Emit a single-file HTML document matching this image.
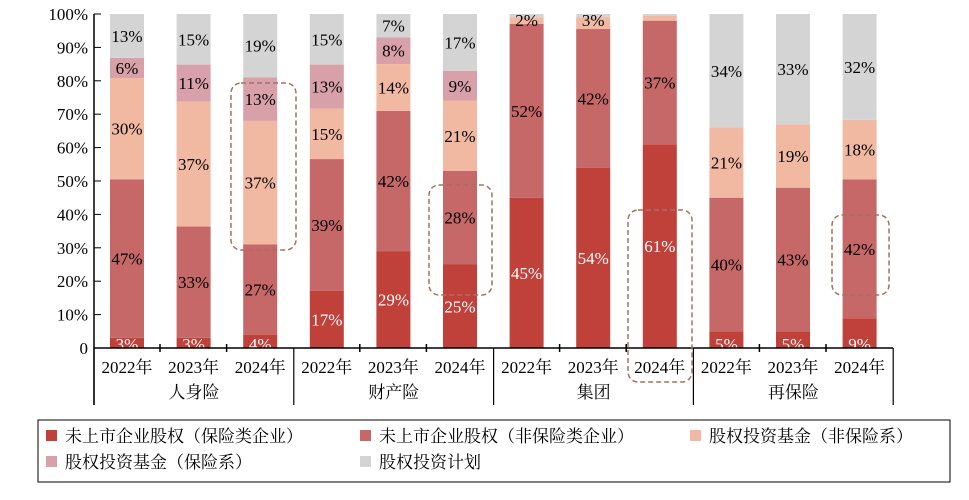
<!DOCTYPE html>
<html><head><meta charset="utf-8"><style>
body{margin:0;background:#fff;}
svg text{font-family:"Liberation Serif","Noto Serif CJK SC",serif;font-size:17px;}
</style></head><body>
<svg id="c" width="969" height="495" xmlns="http://www.w3.org/2000/svg"></svg>
<script>
const s=document.getElementById('c');let h='',t='';
const y0=348,k=3.34;
const col=['#c0403a','#c66868','#f1b9a2','#d8a0a8','#d4d4d4'];
const data=[[3,47,30,6,13],[3,33,37,11,15],[4,27,37,13,19],[17,39,15,13,15],[29,42,14,8,7],[25,28,21,9,17],
[45,52,2,0,1],[54,41.5,3.5,0,1],[61,37,1.5,0,0.5],[5,40,21,0,34],[5,43,19,0,33],[9,42,18,0,32]];
const lab=[[3,47,30,6,13],[3,33,37,11,15],[4,27,37,13,19],[17,39,15,13,15],[29,42,14,8,7],[25,28,21,9,17],
[45,52,2,null,null],[54,42,3,null,null],[61,37,null,null,null],[5,40,21,null,34],[5,43,19,null,33],[9,42,18,null,32]];
for(let i=0;i<12;i++){
 const cx=127+i*66.6;let acc=0;let tot=data[i].reduce((a,b)=>a+b,0);
 for(let j=0;j<5;j++){const v=data[i][j]*100/tot;if(v<=0)continue;
  const yt=y0-(acc+v)*k;h+=`<rect x="${cx-17}" y="${yt}" width="34" height="${v*k}" fill="${col[j]}"/>`;
  const L=lab[i][j];
  if(L!=null){let ty=y0-(acc+v/2)*k+6;if(i>=6&&i<=7&&j==2)ty=26;if(j==0&&L<10)ty=y0+2;
   t+=`<text x="${cx}" y="${ty}" text-anchor="middle" fill="${j==0?'#fff':'#000'}">${L}%</text>`;}
  acc+=v;}
 t+=`<text x="${cx}" y="373" text-anchor="middle">${2022+i%3}年</text>`;
}
h+=t;
h+=`<line x1="94" y1="14" x2="94" y2="405" stroke="#000" stroke-width="1.5"/>`;
h+=`<line x1="94" y1="348" x2="893" y2="348" stroke="#000" stroke-width="1.5"/>`;
for(let p=0;p<=10;p++){const y=y0-p*33.4;h+=`<line x1="94" y1="${y}" x2="101" y2="${y}" stroke="#000"/><text x="88" y="${y+6}" text-anchor="end">${p==0?'0':p*10+'%'}</text>`;}
for(let g=0;g<=4;g++){const x=94+g*199.8;h+=`<line x1="${x}" y1="348" x2="${x}" y2="405" stroke="#000" stroke-width="1.2"/>`;}
for(let i=0;i<11;i++){const x=160+i*66.6;if((i+1)%3)h+=`<line x1="${x}" y1="344" x2="${x}" y2="352" stroke="#000" stroke-width="1.5"/>`;}
['人身险','财产险','集团','再保险'].forEach((q,g)=>h+=`<text x="${194+g*199.8}" y="398" text-anchor="middle">${q}</text>`);
[[231,83,65,167],[429,185,63,110],[628,210,64,172],[832,215,57,80]].forEach(r=>h+=`<rect x="${r[0]}" y="${r[1]}" width="${r[2]}" height="${r[3]}" rx="10" fill="none" stroke="#a87060" stroke-width="1.5" stroke-dasharray="5,3"/>`);
h+=`<rect x="38" y="420" width="912" height="62" fill="none" stroke="#000"/>`;
const lg=[[46,436,'未上市企业股权（保险类企业）'],[360,436,'未上市企业股权（非保险类企业）'],[690,436,'股权投资基金（非保险系）'],[46,462,'股权投资基金（保险系）'],[360,462,'股权投资计划']];
lg.forEach((l,j)=>h+=`<rect x="${l[0]}" y="${l[1]-6}" width="11" height="11" fill="${col[j]}"/><text x="${l[0]+19}" y="${l[1]+6}">${l[2]}</text>`);
s.innerHTML=h;
</script>
</body></html>
